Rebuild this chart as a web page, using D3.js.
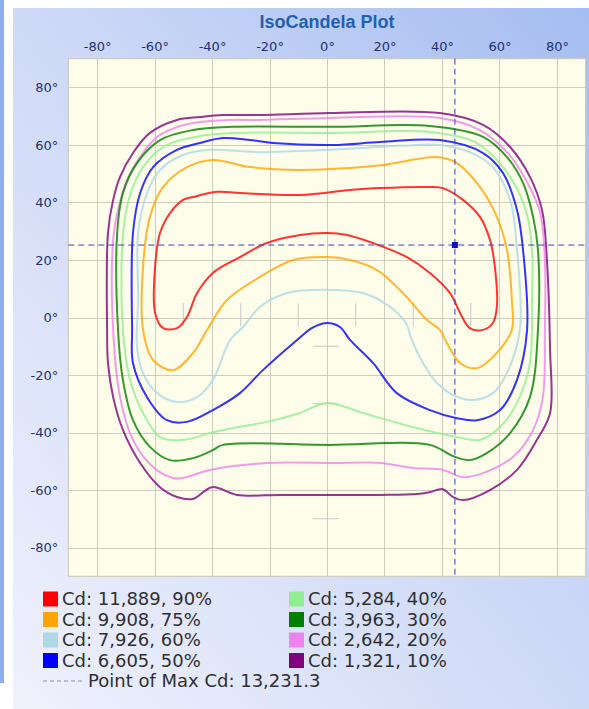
<!DOCTYPE html>
<html>
<head>
<meta charset="utf-8">
<script src="https://cdn.jsdelivr.net/npm/d3@7"></script>
<style>
body { margin: 0; background: #fff; }
</style>
</head>
<body>
<div id="chart"></div>
<script>
// legend values
const cdValues = ["11,889", "9,908", "7,926", "6,605", "5,284", "3,963", "2,642", "1,321"];
const cdPercents = [90, 75, 60, 50, 40, 30, 20, 10];
const maxCd = "13,231.3";
const maxPoint = [44.5, 25.2];   // [horizontal deg, vertical deg]

const xTicks = [-80, -60, -40, -20, 0, 20, 40, 60, 80];
const yTicks = [80, 60, 40, 20, 0, -20, -40, -60, -80];

// isocandela lines, [horizontal deg, vertical deg]
const iso90 = [[-46.6,41.9],[-38.3,43.7],[-30.3,43.3],[-9.4,42.6],[8,44.3],[18.4,45],[34.8,45.4],[40.3,45],
  [47.3,40.9],[53.2,35],[56.7,27],[58.4,17.6],[59.1,3.7],[57.7,-1.9],[54.3,-4.3],[49.7,-3.7],[46.3,1.6],
  [42.8,8.5],[35.8,15.5],[27.8,21],[16,25.9],[7,28.7],[0,29.4],[-9.4,28.7],[-20.9,25.9],[-30.3,21],
  [-39.7,15.5],[-45.2,8.5],[-48.7,0.2],[-52.2,-3.7],[-57,-3.7],[-59.8,1.6],[-59.8,17.6],[-58.1,29.4],
  [-54.6,36.3],[-50.1,40.9]];
const iso75 = [[-39.7,54.8],[-26.8,52.3],[-9.4,51.3],[8,52],[19.5,53],[38.3,55.8],[45.2,53.7],[53.2,45.4],
  [59.1,35],[62.6,23.5],[64.3,6.1],[64.3,-4.3],[59.1,-12.3],[52.2,-17.6],[46.3,-15.8],[41.7,-8.9],
  [39.3,-4.3],[34.8,-0.9],[26.4,8.5],[17.4,16.5],[8,20],[0,21],[-11.8,20],[-23.3,14.1],[-34.8,6.1],
  [-41.7,-4.3],[-46.6,-12.3],[-53.6,-18.3],[-60.5,-14.8],[-64,-4.3],[-64,17.6],[-61.6,35],[-57,45.4],
  [-48.7,52.3]];
const iso60 = [[-40.7,58.3],[-23.3,57.5],[1,58.3],[25.4,59.7],[39.3,60],[49.7,57.5],[57.7,52.3],[63.7,40.9],
  [66.1,23.5],[67.1,-4.3],[62.6,-19.3],[57.7,-26.3],[50.8,-28.7],[43.8,-27],[38.3,-22.8],[33.4,-15.8],
  [29.5,-7.8],[27.5,-2],[21.9,3.7],[12.5,8.5],[1,9.6],[-13.9,8.5],[-23.3,3.7],[-29.2,-3.3],[-33.7,-7.8],
  [-39.7,-21.7],[-45.2,-27.7],[-52.2,-29.4],[-59.1,-26.3],[-64,-19.3],[-66.1,-10.3],[-65.7,6.1],
  [-65.7,29.4],[-62.6,43.3],[-58.1,51.3],[-50.1,56.5]];
const iso50 = [[-36.2,62.4],[-26.8,61.7],[-18.8,60.7],[2.1,60],[18.4,61],[39.3,61.7],[54.3,57.2],[61.2,50.3],
  [66.1,37.4],[68.2,23.5],[69.6,-4.3],[66.1,-21.7],[60.2,-32.2],[52.2,-35.7],[45.2,-35],[35.8,-32.2],
  [24.3,-26.3],[16,-15.8],[8,-7.8],[4.5,-3.3],[0,-1.9],[-5,-3.5],[-10.4,-7.8],[-22.3,-18.3],[-30.3,-26.3],
  [-39.7,-32.2],[-48.7,-36.3],[-55.7,-35.7],[-62.6,-27.7],[-67.5,-15.8],[-67.8,-4.3],[-67.5,29.4],
  [-65,43.3],[-60.5,52.3],[-52.2,58.3],[-44.2,60.7]];
const iso40 = [[-30.3,64.2],[-44.2,63.1],[-56.3,59.7],[-64,52.3],[-68.5,42.6],[-71,28.7],[-71,-4.3],
  [-68.5,-21.7],[-64,-33.2],[-58.1,-41.6],[-50.1,-42.6],[-40.7,-40.2],[-32.7,-38.4],[-20.9,-36.3],
  [-9.4,-33.2],[0,-29.7],[12.5,-33.2],[29.9,-38.1],[45.2,-41.6],[53.2,-42.6],[60.2,-38.1],[66.1,-29.7],
  [70.6,-15.8],[71.3,6.1],[71.3,23.5],[69.6,35.7],[65.4,46.1],[59.1,54.8],[51.5,61],[35.8,64.5],[1,64.2]];
const iso30 = [[-32.7,66.3],[-46.6,65.2],[-58.1,61.7],[-66.1,53.7],[-71,43.3],[-73,29.4],[-72.7,-4.3],
  [-71,-21.7],[-67.5,-35.7],[-61.6,-45],[-54.6,-49.6],[-46.6,-48.9],[-39.7,-46.1],[-36.2,-44.3],
  [1,-44.3],[35.8,-44.3],[43.8,-48.2],[49.7,-49.6],[55.7,-47.1],[63.7,-40.2],[70.6,-27.7],[73.4,-4.3],
  [73.4,23.5],[71.7,35],[68.2,46.8],[62.6,55.8],[54.3,62.8],[35.8,66.6],[1,66.3]];
const iso20 = [[-33.7,68.7],[-44.2,68],[-51.1,66.6],[-59.1,62.8],[-65,55.8],[-69.6,47.8],[-72.7,37.4],
  [-74.4,27],[-74.4,-4.3],[-72,-27.7],[-67.5,-42.6],[-60.5,-52],[-53.6,-55.8],[-50.1,-55.8],[-40.7,-53],
  [-20.9,-50.6],[2.1,-50.6],[18.4,-50.6],[29.9,-52.3],[40.3,-53],[47.3,-55.5],[54.3,-54.1],[64.7,-48.5],
  [71.7,-39.1],[75.1,-27.7],[75.8,-4.3],[75.8,20],[74.1,36.7],[69.2,47.8],[62.6,57.5],[53.2,65.2],
  [39.3,69.4],[1,69.4],[-23.3,68.7]];
const iso10 = [[-36.2,70.4],[-44.2,69.7],[-52.2,68.7],[-61.6,64.2],[-67.5,57.2],[-72,48.9],[-74.4,40.9],
  [-76.2,29.4],[-76.5,-4.3],[-76.2,-15.8],[-74.4,-27.7],[-71,-39.1],[-65,-50.6],[-58.1,-59],[-52.2,-62.4],
  [-46.6,-63.1],[-40,-59],[-31.3,-61.7],[-16.3,-61.7],[1,-61.7],[18.4,-61.7],[31.3,-61.4],[35.8,-60.7],
  [40.3,-59.7],[43.8,-62.4],[47.3,-63.5],[56.7,-60],[66.1,-53],[73,-42.6],[77.6,-33.2],[77.6,-11.3],
  [76.5,20],[74.8,37.4],[70.6,48.9],[63.7,59.3],[54.3,67],[39.3,71.1],[1,71.1],[-23.3,70.4]];

const isoLines = [iso90, iso75, iso60, iso50, iso40, iso30, iso20, iso10];
const isoColors = ["#ff0000", "#ffa500", "#add8e6", "#0000ff", "#90ee90", "#008000", "#ee82ee", "#800080"];

// faint gamma-plane marks inside the plot
const vMarks = [-50, -30, -10, 10, 30, 50];
const hMarks = [-10, -30, -70];

let width = 589;
let height = 709;

let svg = d3.select("#chart").append("svg")
    .attr("width", width)
    .attr("height", height)
    .style("font-family", "'DejaVu Sans', sans-serif")

let defs = svg.append("defs")
let grad = defs.append("linearGradient").attr("id", "panelBg")
    .attr("x1", 0).attr("y1", 1).attr("x2", 1).attr("y2", 0)
grad.append("stop").attr("offset", 0).attr("stop-color", "#f0f1fd")
grad.append("stop").attr("offset", 0.5).attr("stop-color", "#cfdaf7")
grad.append("stop").attr("offset", 1).attr("stop-color", "#a6bdf1")

// frame
svg.append("rect").attr("x", 0).attr("y", 0).attr("width", 4).attr("height", 683).attr("fill", "#8eaef0")
svg.append("rect").attr("x", 13).attr("y", 8).attr("width", width - 13).attr("height", height - 8)
    .attr("fill", "url(#panelBg)")

let xscale = d3.scaleLinear().domain([-90, 90]).range([68.3, 585.7])
let yscale = d3.scaleLinear().domain([-90, 90]).range([576.3, 58.7])

let plot = svg.append("g")

plot.append("rect")
    .attr("x", xscale(-90)).attr("y", yscale(90))
    .attr("width", xscale(90) - xscale(-90))
    .attr("height", yscale(-90) - yscale(90))
    .attr("fill", "#fdfdea")
    .attr("stroke", "#c9c6b6")

// grid
plot.selectAll(".vgrid").data(xTicks).enter().append("line")
    .attr("x1", d => Math.round(xscale(d)) + 0.5).attr("x2", d => Math.round(xscale(d)) + 0.5)
    .attr("y1", yscale(90)).attr("y2", yscale(-90))
    .attr("stroke", "#cfccbd")
plot.selectAll(".hgrid").data(yTicks).enter().append("line")
    .attr("y1", d => Math.round(yscale(d)) + 0.5).attr("y2", d => Math.round(yscale(d)) + 0.5)
    .attr("x1", xscale(-90)).attr("x2", xscale(90))
    .attr("stroke", "#cfccbd")

plot.selectAll(".vmark").data(vMarks).enter().append("line")
    .attr("x1", d => xscale(d)).attr("x2", d => xscale(d))
    .attr("y1", yscale(5)).attr("y2", yscale(-3))
    .attr("stroke", "#c8c8c8")
plot.selectAll(".hmark").data(hMarks).enter().append("line")
    .attr("y1", d => yscale(d)).attr("y2", d => yscale(d))
    .attr("x1", xscale(-5)).attr("x2", xscale(4))
    .attr("stroke", "#c8c8c8")

// axes
let xAxis = svg.append("g")
    .attr("transform", "translate(0," + yscale(90) + ")")
    .call(d3.axisTop(xscale).tickValues(xTicks).tickSize(0).tickPadding(8).tickFormat(d => d + "°"))
let yAxis = svg.append("g")
    .attr("transform", "translate(" + xscale(-90) + ",0)")
    .call(d3.axisLeft(yscale).tickValues(yTicks).tickSize(0).tickPadding(10).tickFormat(d => d + "°"))
;[xAxis, yAxis].forEach(a => {
    a.select(".domain").remove()
    a.selectAll("text").attr("fill", "#1f3272").style("font-size", "13px")
        .style("font-family", "'DejaVu Sans', sans-serif")
})

// contours
let line = d3.line()
    .x(d => xscale(d[0]))
    .y(d => yscale(d[1]))
    .curve(d3.curveCatmullRomClosed.alpha(0.5))

plot.selectAll(".iso").data(isoLines.slice().reverse()).enter().append("path")
    .attr("d", line)
    .attr("fill", "none")
    .attr("stroke", (d, i) => isoColors[isoColors.length - 1 - i])
    .attr("stroke-width", 2)
    .attr("stroke-opacity", 0.8)

// point of max cd
plot.append("line")
    .attr("x1", xscale(-90)).attr("x2", xscale(90))
    .attr("y1", yscale(maxPoint[1])).attr("y2", yscale(maxPoint[1]))
    .attr("stroke", "#3b3bcf").attr("stroke-dasharray", "6,4")
plot.append("line")
    .attr("x1", xscale(maxPoint[0])).attr("x2", xscale(maxPoint[0]))
    .attr("y1", yscale(90)).attr("y2", yscale(-90))
    .attr("stroke", "#3b3bcf").attr("stroke-dasharray", "6,4")
plot.append("rect")
    .attr("x", xscale(maxPoint[0]) - 3).attr("y", yscale(maxPoint[1]) - 3)
    .attr("width", 6).attr("height", 6)
    .attr("fill", "#1010c0")

// title
svg.append("text")
    .attr("x", (xscale(-90) + xscale(90)) / 2).attr("y", 28)
    .attr("text-anchor", "middle")
    .style("font-family", "'Liberation Sans', Arial, sans-serif")
    .style("font-weight", "bold")
    .style("font-size", "18px")
    .attr("fill", "#2160b0")
    .text("IsoCandela Plot")

// legend
let legend = svg.append("g").style("font-size", "18px")
let items = legend.selectAll(".item").data(cdValues).enter().append("g")
    .attr("transform", (d, i) => "translate(" + (i < 4 ? 43 : 289) + "," + (599 + (i % 4) * 20.5) + ")")
items.append("rect")
    .attr("x", 0).attr("y", -7.5).attr("width", 15).attr("height", 15)
    .attr("fill", (d, i) => isoColors[i])
items.append("text")
    .attr("x", 19).attr("dy", "0.36em")
    .attr("fill", "#303030")
    .text((d, i) => "Cd: " + d + ", " + cdPercents[i] + "%")

let maxRow = legend.append("g").attr("transform", "translate(43,681)")
maxRow.append("line").attr("x1", 0).attr("x2", 40)
    .attr("stroke", "#8a8fa8").attr("stroke-dasharray", "4,3")
maxRow.append("text").attr("x", 45).attr("dy", "0.36em")
    .attr("fill", "#303030")
    .text("Point of Max Cd: " + maxCd)
</script>
</body>
</html>
